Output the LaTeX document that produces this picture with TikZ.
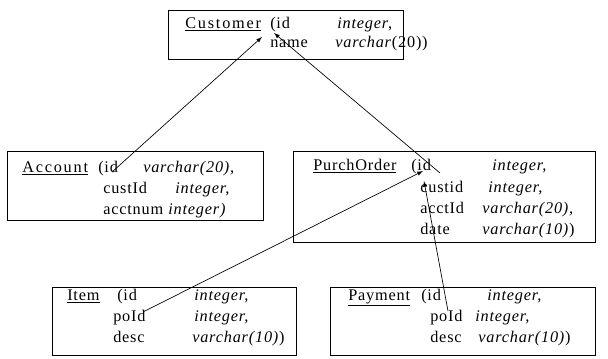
\documentclass[tikz,border=0pt]{standalone}
\usepackage{fontspec}
\setmainfont{Liberation Serif}[LetterSpace=5]
\tikzset{
	txt/.style={anchor=base west,inner sep=0pt,font=\fontsize{12.2}{15}\selectfont},
	wide/.style={txt,font=\fontsize{12.2}{15}\selectfont\addfontfeature{LetterSpace=11}},
	tbl/.style={draw,line width=0.6pt},
	ref/.style={->,line width=0.5pt}
}
\begin{document}
\begin{tikzpicture}[x=0.75pt,y=-0.75pt,>=latex]
\useasboundingbox (0,0) rectangle (608,358);
% tables
\draw[tbl] (168,10) rectangle (403,59);
\draw[tbl] (7,151) rectangle (263,220);
\draw[tbl] (293,151) rectangle (595,242);
\draw[tbl] (52,287) rectangle (296,355);
\draw[tbl] (330,287) rectangle (595,355);
% Customer
\node[wide] (cust) at (185,28) {\underline{Customer}};
\node[txt] (cust-id) at (270,28) {(id};
\node[txt] at (337,28) {\textit{integer},};
\node[txt] (cust-name) at (270,47) {name};
\node[txt] at (335,47) {\textit{varchar}(20))};
% Account
\node[wide] (acc) at (22,172) {\underline{Account}};
\node[txt] (acc-id) at (98,172) {(id};
\node[txt] at (143,172) {\textit{varchar(20),}};
\node[txt] (acc-cust) at (103,193) {custId};
\node[txt] at (175,193) {\textit{integer,}};
\node[txt] (acc-num) at (103,214) {acctnum};
\node[txt] at (168,214) {\textit{integer)}};
% PurchOrder
\node[txt] (po) at (313,170) {\underline{PurchOrder}};
\node[txt] (po-id) at (411,170) {(id};
\node[txt] at (492,170) {\textit{integer,}};
\node[txt] (po-cust) at (420,192) {custid};
\node[txt] at (488,192) {\textit{integer,}};
\node[txt] (po-acct) at (420,213) {acctId};
\node[txt] at (482,213) {\textit{varchar(20),}};
\node[txt] (po-date) at (420,234) {date};
\node[txt] at (482,234) {\textit{varchar(10)})};
% Item
\node[txt] (item) at (67,300) {\underline{Item}};
\node[txt] (item-id) at (117,300) {(id};
\node[txt] at (194,300) {\textit{integer,}};
\node[txt] (item-po) at (113,321) {poId};
\node[txt] at (194,321) {\textit{integer,}};
\node[txt] (item-desc) at (113,342) {desc};
\node[txt] at (192,342) {\textit{varchar(10)})};
% Payment
\node[txt] (pay) at (348,300) {\underline{Payment}};
\node[txt] (pay-id) at (421,300) {(id};
\node[txt] at (487,300) {\textit{integer,}};
\node[txt] (pay-po) at (430,321) {poId};
\node[txt] at (475,321) {\textit{integer,}};
\node[txt] (pay-desc) at (430,342) {desc};
\node[txt] at (478,342) {\textit{varchar(10)})};
% foreign keys
\coordinate (acc-fk) at (112,172);
\coordinate (cust-key1) at (262,37);
\coordinate (po-fk) at (440,173);
\coordinate (cust-key2) at (274,33);
\coordinate (item-fk) at (143,312);
\coordinate (po-key1) at (423,171);
\coordinate (pay-fk) at (448,311);
\coordinate (po-key2) at (424,181);
\draw[ref] (acc-fk) -- (cust-key1);
\draw[ref] (po-fk) -- (cust-key2);
\draw[ref] (item-fk) -- (po-key1);
\draw[ref] (pay-fk) -- (po-key2);
\end{tikzpicture}
\end{document}
